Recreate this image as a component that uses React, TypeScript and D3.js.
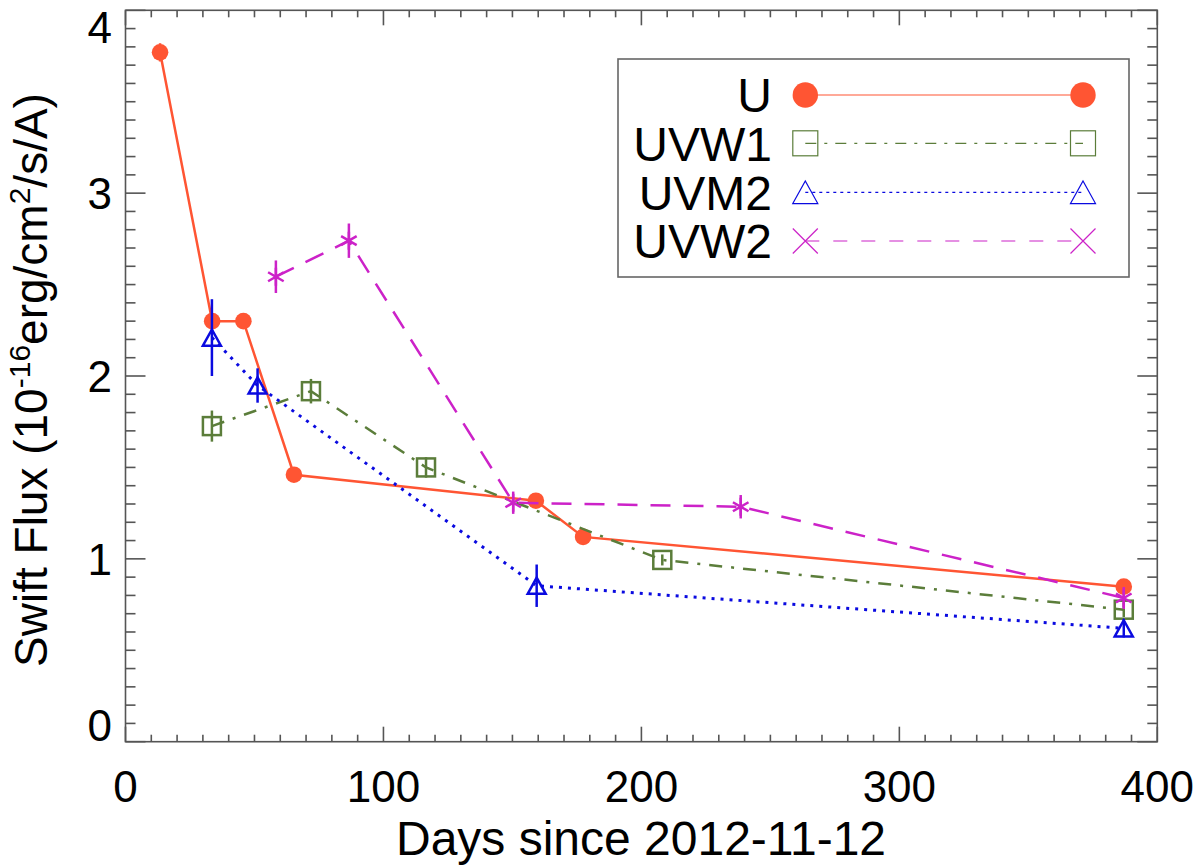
import { useEffect, useRef } from "react";
import * as d3 from "d3";

// Days since 2012-11-12 and Swift flux (1e-16 erg/cm2/s/A)
const uDays = [13.4, 33.6, 45.7, 65.3, 159.1, 177.4, 387];
const uFlux = [3.77, 2.3, 2.3, 1.46, 1.318, 1.12, 0.848];
const uErr = [0.05, 0.02, 0.02, 0.02, 0.02, 0.02, 0.02];

const w1Days = [33.5, 71.9, 116.5, 208.1, 387];
const w1Flux = [1.726, 1.917, 1.5, 0.994, 0.722];
const w1Err = [0.085, 0.067, 0.056, 0.03, 0.04];

const m2Days = [33.5, 51.2, 159.4, 387];
const m2Flux = [2.21, 1.948, 0.853, 0.62];
const m2Err = [0.21, 0.094, 0.116, 0.05];

const w2Days = [58.3, 86.6, 150.3, 238.5, 387];
const w2Flux = [2.543, 2.74, 1.307, 1.285, 0.786];
const w2Err = [0.089, 0.094, 0.061, 0.064, 0.06];

const xTicks = [0, 100, 200, 300, 400];
const yTicks = [0, 1, 2, 3, 4];
const legendLabels = ["U", "UVW1", "UVM2", "UVW2"];

const FONT = "'Liberation Sans', Arial, Helvetica, sans-serif";
const AXIS = "#555";

type Series = {
  days: number[];
  flux: number[];
  err: number[];
  color: string;
  dash: string | null;
  legendDash: string | null;
  sym: "circle" | "square" | "triangle" | "asterisk" | "x";
  legendSym: "circle" | "square" | "triangle" | "asterisk" | "x";
};

export default function App() {
  const svgRef = useRef<SVGSVGElement | null>(null);

  useEffect(() => {
    document.body.style.margin = "0";
    if (!svgRef.current) return;
    const svg = d3.select(svgRef.current);
    svg.selectAll("*").remove();

    const W = 1200;
    const H = 866;
    const left = 125.5;
    const right = 1157.3;
    const top = 10.3;
    const bottom = 741.7;

    const x = d3.scaleLinear().domain([0, 400]).range([left, right]);
    const y = d3.scaleLinear().domain([0, 4]).range([bottom, top]);

    svg.attr("width", W).attr("height", H).attr("viewBox", `0 0 ${W} ${H}`);
    svg.append("rect").attr("width", W).attr("height", H).attr("fill", "#fff");

    const series: Series[] = [
      { days: uDays, flux: uFlux, err: uErr, color: "#ff5533", dash: null, legendDash: null, sym: "circle", legendSym: "circle" },
      { days: w1Days, flux: w1Flux, err: w1Err, color: "#5b7d3a", dash: "13 9 3 9", legendDash: "11 8 3 8", sym: "square", legendSym: "square" },
      { days: m2Days, flux: m2Flux, err: m2Err, color: "#0a0ae0", dash: "3 6", legendDash: "3 4", sym: "triangle", legendSym: "triangle" },
      { days: w2Days, flux: w2Flux, err: w2Err, color: "#cc22c8", dash: "20 13", legendDash: "14 14", sym: "asterisk", legendSym: "x" },
    ];

    const drawSymbol = (
      g: d3.Selection<SVGGElement, unknown, null, undefined>,
      sym: string,
      cx: number,
      cy: number,
      s: number,
      color: string,
      sw: number
    ) => {
      if (sym === "circle") {
        g.append("circle").attr("cx", cx).attr("cy", cy).attr("r", s).attr("fill", color);
      } else if (sym === "square") {
        g.append("rect")
          .attr("x", cx - s)
          .attr("y", cy - s)
          .attr("width", 2 * s)
          .attr("height", 2 * s)
          .attr("fill", "none")
          .attr("stroke", color)
          .attr("stroke-width", sw);
      } else if (sym === "triangle") {
        g.append("path")
          .attr("d", `M${cx - s},${cy + s * 0.9}L${cx},${cy - s * 0.9}L${cx + s},${cy + s * 0.9}Z`)
          .attr("fill", "none")
          .attr("stroke", color)
          .attr("stroke-width", sw);
      } else if (sym === "asterisk") {
        const a = (Math.PI / 180) * 30;
        const dx = s * Math.cos(a);
        const dy = s * Math.sin(a);
        g.append("path")
          .attr(
            "d",
            `M${cx},${cy - s}L${cx},${cy + s}M${cx - dx},${cy - dy}L${cx + dx},${cy + dy}M${cx - dx},${cy + dy}L${cx + dx},${cy - dy}`
          )
          .attr("stroke", color)
          .attr("stroke-width", sw)
          .attr("fill", "none");
      } else if (sym === "x") {
        g.append("path")
          .attr("d", `M${cx - s},${cy - s}L${cx + s},${cy + s}M${cx - s},${cy + s}L${cx + s},${cy - s}`)
          .attr("stroke", color)
          .attr("stroke-width", sw)
          .attr("fill", "none");
      }
    };

    // Data lines, error bars and markers
    const plot = svg.append("g");
    series.forEach((s) => {
      const pts = s.days.map((d, i) => [d, s.flux[i]] as [number, number]);
      const line = d3
        .line<[number, number]>()
        .x((p) => x(p[0]))
        .y((p) => y(p[1]));
      plot
        .append("path")
        .attr("d", line(pts))
        .attr("fill", "none")
        .attr("stroke", s.color)
        .attr("stroke-width", s.sym === "triangle" ? 3 : 2.5)
        .attr("stroke-dasharray", s.dash ?? null);

      s.days.forEach((d, i) => {
        plot
          .append("line")
          .attr("x1", x(d))
          .attr("x2", x(d))
          .attr("y1", y(s.flux[i] - s.err[i]))
          .attr("y2", y(s.flux[i] + s.err[i]))
          .attr("stroke", s.color)
          .attr("stroke-width", 2.5);
        const size = s.sym === "circle" ? 8.3 : 9;
        drawSymbol(plot, s.sym, x(d), y(s.flux[i]), size, s.color, 2.5);
      });
    });

    // Frame
    const axes = svg.append("g").attr("stroke", AXIS).attr("stroke-width", 1.6);
    axes
      .append("rect")
      .attr("x", left)
      .attr("y", top)
      .attr("width", right - left)
      .attr("height", bottom - top)
      .attr("fill", "none");

    // X ticks (bottom + top)
    d3.range(0, 401, 10).forEach((v) => {
      const major = v % 100 === 0;
      const len = major ? 15 : 7;
      axes.append("line").attr("x1", x(v)).attr("x2", x(v)).attr("y1", bottom).attr("y2", bottom - len);
      axes.append("line").attr("x1", x(v)).attr("x2", x(v)).attr("y1", top).attr("y2", top + len);
    });
    // Y ticks (left + right)
    d3.range(0, 41, 1).forEach((k) => {
      const v = k / 10;
      const major = k % 10 === 0;
      const len = major ? 20 : 10;
      axes.append("line").attr("x1", left).attr("x2", left + len).attr("y1", y(v)).attr("y2", y(v));
      axes.append("line").attr("x1", right).attr("x2", right - len).attr("y1", y(v)).attr("y2", y(v));
    });

    const text = svg.append("g").attr("font-family", FONT).attr("fill", "#000");

    xTicks.forEach((v) => {
      text
        .append("text")
        .attr("x", x(v))
        .attr("y", 801.5)
        .attr("text-anchor", "middle")
        .attr("font-size", 44)
        .text(String(v));
    });

    const half = 16.5;
    yTicks.forEach((v) => {
      const cy = Math.min(Math.max(y(v), top + half), bottom - half);
      text
        .append("text")
        .attr("x", 112)
        .attr("y", cy)
        .attr("dy", "0.36em")
        .attr("text-anchor", "end")
        .attr("font-size", 44)
        .text(String(v));
    });

    text
      .append("text")
      .attr("x", 641)
      .attr("y", 855)
      .attr("text-anchor", "middle")
      .attr("font-size", 48)
      .text("Days since 2012-11-12");

    const ylab = text
      .append("text")
      .attr("transform", `translate(47,380) rotate(-90)`)
      .attr("text-anchor", "middle")
      .attr("font-size", 46);
    ylab.append("tspan").text("Swift Flux (10");
    ylab.append("tspan").attr("dy", -17).attr("font-size", 30).text("-16");
    ylab.append("tspan").attr("dy", 17).text("erg/cm");
    ylab.append("tspan").attr("dy", -17).attr("font-size", 30).text("2");
    ylab.append("tspan").attr("dy", 17).text("/s/A)");

    // Legend
    const lg = svg.append("g");
    lg.append("rect")
      .attr("x", 618)
      .attr("y", 59)
      .attr("width", 511)
      .attr("height", 218)
      .attr("fill", "#fff")
      .attr("stroke", "#666")
      .attr("stroke-width", 1.6);
    const legendY = [95, 143.3, 192.3, 241];
    const lx1 = 805.3;
    const lx2 = 1083;
    series.forEach((s, i) => {
      const ly = legendY[i];
      lg.append("text")
        .attr("x", 772)
        .attr("y", ly)
        .attr("dy", "0.36em")
        .attr("text-anchor", "end")
        .attr("font-family", FONT)
        .attr("font-size", 48)
        .attr("fill", "#000")
        .text(legendLabels[i]);
      lg.append("line")
        .attr("x1", lx1)
        .attr("x2", lx2)
        .attr("y1", ly)
        .attr("y2", ly)
        .attr("stroke", s.color)
        .attr("stroke-width", 1.2)
        .attr("stroke-dasharray", s.legendDash ?? null);
      const size = s.legendSym === "circle" ? 12.7 : 12.5;
      drawSymbol(lg, s.legendSym, lx1, ly, size, s.color, 1.2);
      drawSymbol(lg, s.legendSym, lx2, ly, size, s.color, 1.2);
    });
  }, []);

  return <svg ref={svgRef} style={{ display: "block" }} />;
}
